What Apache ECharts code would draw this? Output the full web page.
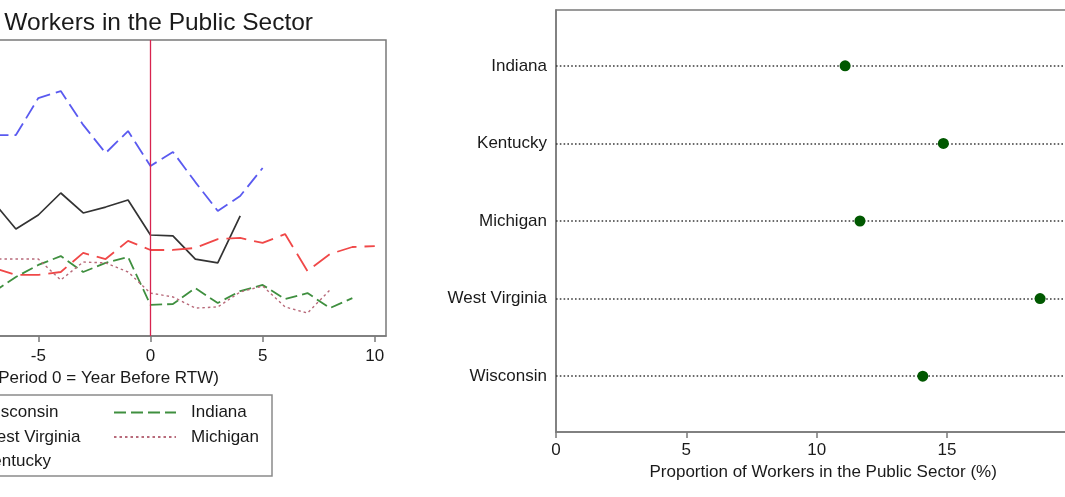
<!DOCTYPE html>
<html>
<head>
<meta charset="utf-8">
<script src="https://cdn.jsdelivr.net/npm/echarts@6/dist/echarts.min.js"></script>
<style>
  html, body { margin: 0; padding: 0; background: #fff; overflow: hidden; }
  #chart { position: absolute; left: -260px; top: 0; width: 1385px; height: 497px; }
</style>
</head>
<body>
<div id="chart"></div>
<script>
// left panel: periods relative to RTW (0 = year before)
const periods = [-7, -6, -5, -4, -3, -2, -1, 0, 1, 2, 3, 4, 5, 6, 7, 8, 9, 10];
const wisconsin    = [15.24, 13.78, 14.54, 15.73, 14.65, 14.97, 15.35, 13.46, 13.41, 12.16, 11.95, 14.49, null, null, null, null, null, null];
const westVirginia = [18.86, 18.86, 20.86, 21.24, 19.41, 17.89, 19.08, 17.19, 17.95, 16.32, 14.76, 15.57, 17.08, null, null, null, null, null];
const kentucky     = [11.68, 11.30, 11.30, 11.46, 12.49, 12.16, 13.14, 12.65, 12.65, 12.76, 13.24, 13.30, 13.03, 13.51, 11.51, 12.43, 12.81, 12.86];
const indiana      = [10.38, 11.19, 11.84, 12.32, 11.46, 11.95, 12.27, 9.68, 9.73, 10.59, 9.78, 10.43, 10.76, 10.00, 10.32, 9.51, 10.05, null];
const michigan     = [12.16, 12.16, 12.16, 11.03, 12.00, 11.95, 11.46, 10.32, 10.11, 9.51, 9.57, 10.38, 10.70, 9.57, 9.24, 10.49, null, null];
const periodTicks = [-15, -10, -5, 0, 5, 10];

// right panel: average share by state
const states = ['Indiana', 'Kentucky', 'Michigan', 'West Virginia', 'Wisconsin'];
const shares = [11.09, 14.86, 11.66, 18.57, 14.07];
const shareTicks = [0, 5, 10, 15, 20];

const FONT = '"Liberation Sans", Arial, sans-serif';
const TXT = '#1a1a1a';
const FRAME = '#7a7a7a';

function pairs(vals) {
  return periods.map((p, i) => [p, vals[i]]);
}

let chartDom = document.getElementById('chart');
let myChart = echarts.init(chartDom);

let lineSeries = [
  { name: 'Wisconsin', vals: wisconsin, color: '#333333', type: 'solid', width: 1.7 },
  { name: 'West Virginia', vals: westVirginia, color: '#5a5af0', type: [15, 6], width: 1.8 },
  { name: 'Kentucky', vals: kentucky, color: '#f04848', type: [20, 8], width: 1.8 },
  { name: 'Indiana', vals: indiana, color: '#3f8f3f', type: [12, 5], width: 1.8 },
  { name: 'Michigan', vals: michigan, color: '#b86a7a', type: [2.5, 3], width: 1.4 }
].map(s => ({
  name: s.name,
  type: 'line',
  xAxisIndex: 0,
  yAxisIndex: 0,
  data: pairs(s.vals),
  symbol: 'none',
  connectNulls: false,
  lineStyle: { color: s.color, type: s.type, width: s.width },
  itemStyle: { color: s.color }
}));

// RTW reference line
lineSeries[0].markLine = {
  silent: true,
  symbol: 'none',
  label: { show: false },
  lineStyle: { color: '#d8244f', type: 'solid', width: 1.3 },
  data: [{ xAxis: 0 }]
};

let legendBase = {
  orient: 'vertical',
  top: 404,
  padding: 0,
  itemWidth: 62,
  itemHeight: 17,
  itemGap: 7.5,
  itemStyle: { opacity: 0 },
  textStyle: { fontFamily: FONT, fontSize: 17, color: TXT, padding: [0, 0, 0, 10] }
};

let option = {
  animation: false,
  backgroundColor: '#fff',
  textStyle: { fontFamily: FONT, color: TXT },
  title: {
    text: 'Proportion of Workers in the Public Sector',
    right: 812,
    top: 9,
    padding: 0,
    textStyle: { fontFamily: FONT, fontSize: 24.5, fontWeight: 'normal', color: TXT, lineHeight: 28 }
  },
  legend: [
    Object.assign({}, legendBase, { data: ['Wisconsin', 'West Virginia', 'Kentucky'], left: 163 }),
    Object.assign({}, legendBase, { data: ['Indiana', 'Michigan'], left: 373 })
  ],
  graphic: [
    {
      type: 'rect',
      silent: true,
      shape: { x: 149, y: 395, width: 383, height: 81 },
      style: { fill: 'none', stroke: '#8a8a8a', lineWidth: 1.5 }
    }
  ],
  grid: [
    { left: 51.6, top: 40, width: 594.4, height: 296, show: true, borderColor: FRAME, borderWidth: 1.5 },
    { left: 816, top: 10, width: 534.4, height: 422, show: true, borderColor: FRAME, borderWidth: 1.5 }
  ],
  xAxis: [
    {
      gridIndex: 0,
      type: 'value',
      min: -16,
      max: 10.5,
      name: 'Time (Period 0 = Year Before RTW)',
      nameLocation: 'middle',
      nameGap: 32,
      nameTextStyle: { fontFamily: FONT, fontSize: 17, color: TXT, padding: [0, 8, 0, 0] },
      axisLine: { lineStyle: { color: FRAME, width: 1.5 } },
      axisTick: { show: true, length: 6, customValues: periodTicks, lineStyle: { color: FRAME, width: 1.5 } },
      axisLabel: { customValues: periodTicks, fontFamily: FONT, fontSize: 17, color: TXT, margin: 12 },
      splitLine: { show: false }
    },
    {
      gridIndex: 1,
      type: 'value',
      min: 0,
      max: 20.5,
      name: 'Proportion of Workers in the Public Sector (%)',
      nameLocation: 'middle',
      nameGap: 29,
      nameTextStyle: { fontFamily: FONT, fontSize: 17, color: TXT },
      axisLine: { lineStyle: { color: FRAME, width: 1.5 } },
      axisTick: { show: true, length: 6, customValues: shareTicks, lineStyle: { color: FRAME, width: 1.5 } },
      axisLabel: { customValues: shareTicks, fontFamily: FONT, fontSize: 17, color: TXT, margin: 10 },
      splitLine: { show: false }
    }
  ],
  yAxis: [
    {
      gridIndex: 0,
      type: 'value',
      min: 8,
      max: 24,
      axisLine: { show: false },
      axisTick: { show: false },
      axisLabel: { show: false },
      splitLine: { show: false }
    },
    {
      gridIndex: 1,
      type: 'value',
      min: 0.28,
      max: 5.72,
      inverse: true,
      axisLine: { show: true, lineStyle: { color: FRAME, width: 1.5 } },
      axisTick: { show: false },
      axisLabel: {
        customValues: [1, 2, 3, 4, 5],
        formatter: v => states[Math.round(v) - 1],
        fontFamily: FONT, fontSize: 17, color: TXT, margin: 9
      },
      splitLine: { show: false }
    }
  ],
  series: lineSeries.concat([
    {
      name: 'Share',
      type: 'scatter',
      xAxisIndex: 1,
      yAxisIndex: 1,
      symbolSize: 11,
      itemStyle: { color: '#005800', opacity: 1 },
      data: states.map((s, i) => [shares[i], i + 1]),
      z: 5,
      markLine: {
        silent: true,
        symbol: 'none',
        label: { show: false },
        lineStyle: { color: '#3a3a3a', type: [1.6, 2.2], width: 1.6 },
        data: states.map((s, i) => ({ yAxis: i + 1 }))
      }
    }
  ])
};

myChart.setOption(option);
</script>
</body>
</html>
